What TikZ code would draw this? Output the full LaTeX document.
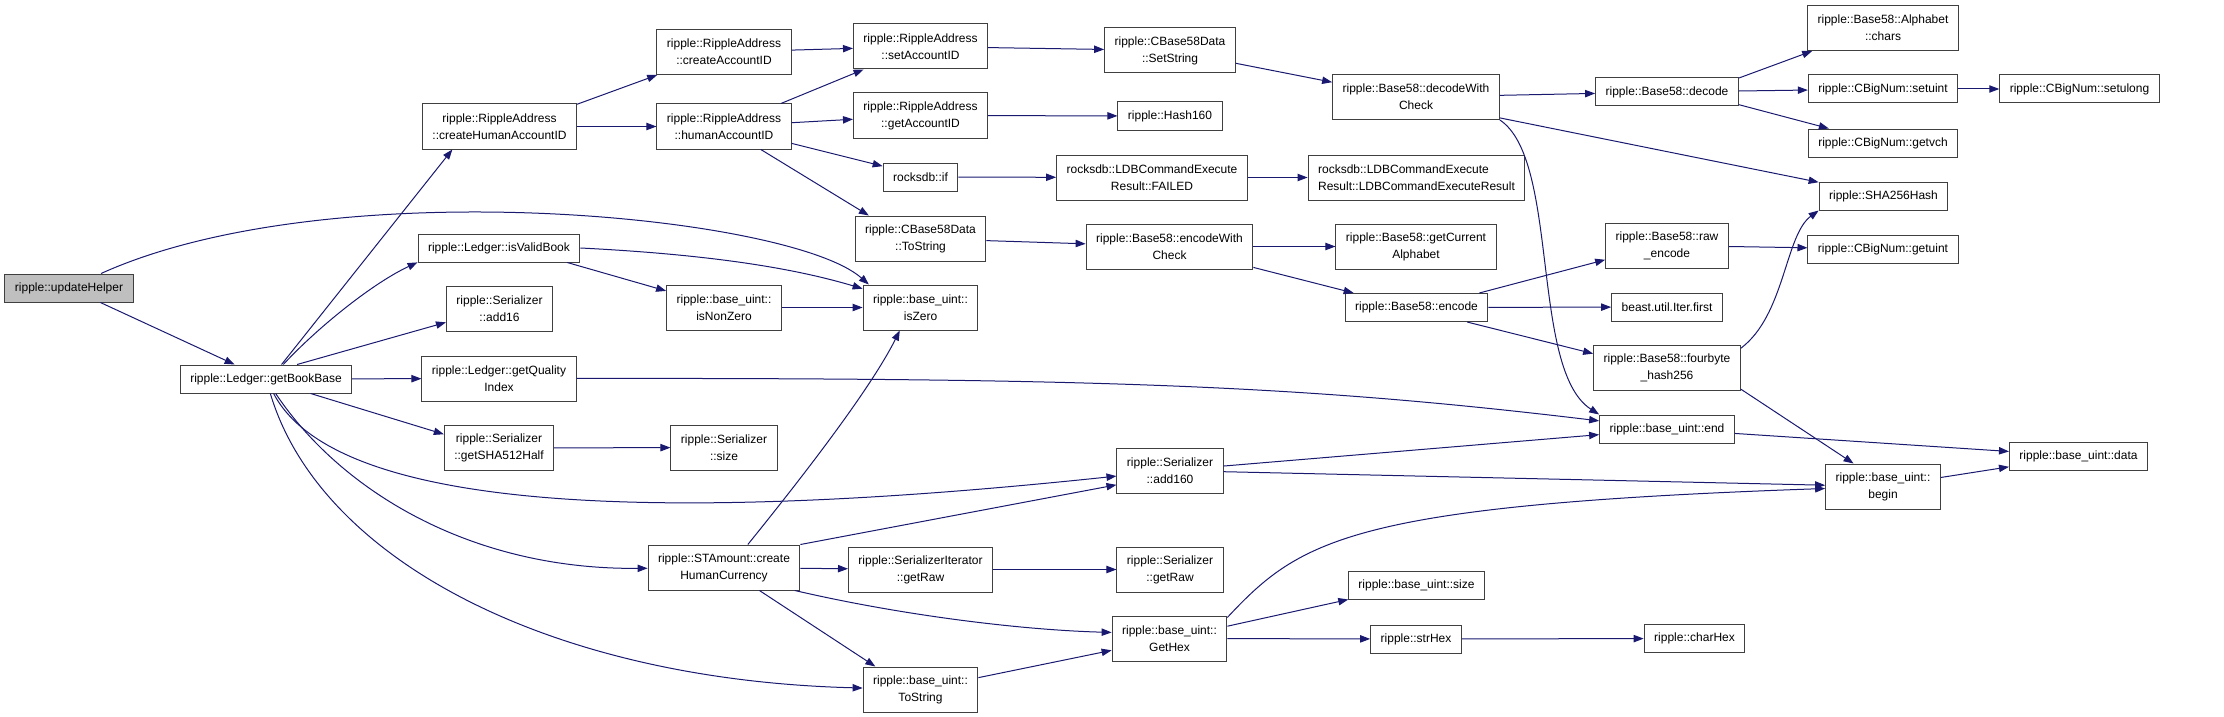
\documentclass[tikz,border=0pt]{standalone}
\usepackage{fontspec}
\setmainfont{Liberation Sans}
\usetikzlibrary{arrows.meta}
\definecolor{edgeblue}{HTML}{191970}
\definecolor{boxline}{HTML}{404040}
\definecolor{rootgray}{HTML}{BFBFBF}
\tikzset{
  funcbox/.style={
    draw=boxline,
    fill=white,
    line width=0.75pt,
    align=center,
    inner xsep=7.5pt,
    inner ysep=2pt,
    minimum height=21pt,
    font=\fontsize{9}{12.75}\selectfont
  },
  funcboxtwo/.style={
    funcbox,
    minimum height=33.75pt
  },
  rootfunc/.style={
    funcbox,
    fill=rootgray
  },
  callarrow/.style={
    -{Triangle[length=7.5pt,width=5.5pt]},
    line width=0.75pt,
    draw=edgeblue
  }
}

\begin{document}
\begin{tikzpicture}[x=0.75pt, y=-0.75pt]
    \useasboundingbox (0,0) rectangle (2224,717);

    % column 0 and 1
    \node[rootfunc] (uh) at (69,288) {ripple::updateHelper};
    \node[funcbox] (gbb) at (266,379) {ripple::Ledger::getBookBase};

    % column 2
    \node[funcboxtwo] (chaid) at (499.5,126.5) {ripple::RippleAddress\\::createHumanAccountID};
    \node[funcbox] (ivb) at (499,248) {ripple::Ledger::isValidBook};
    \node[funcboxtwo] (add16) at (499.5,309) {ripple::Serializer\\::add16};
    \node[funcboxtwo] (gqi) at (499,378.5) {ripple::Ledger::getQuality\\Index};
    \node[funcboxtwo] (sha512) at (499,448) {ripple::Serializer\\::getSHA512Half};

    % column 3
    \node[funcboxtwo] (caid) at (724,52) {ripple::RippleAddress\\::createAccountID};
    \node[funcboxtwo] (haid) at (724,126.5) {ripple::RippleAddress\\::humanAccountID};
    \node[funcboxtwo] (nonzero) at (724,307.5) {ripple::base\_uint::\\isNonZero};
    \node[funcboxtwo] (sersize) at (724,447.5) {ripple::Serializer\\::size};
    \node[funcboxtwo] (chc) at (724,567.5) {ripple::STAmount::create\\HumanCurrency};

    % column 4
    \node[funcboxtwo] (said) at (920.5,46.5) {ripple::RippleAddress\\::setAccountID};
    \node[funcboxtwo] (gaid) at (920.5,115.5) {ripple::RippleAddress\\::getAccountID};
    \node[funcbox] (rif) at (920.5,177) {rocksdb::if};
    \node[funcboxtwo] (b58ts) at (920.5,238.5) {ripple::CBase58Data\\::ToString};
    \node[funcboxtwo] (iszero) at (920.5,307.5) {ripple::base\_uint::\\isZero};
    \node[funcboxtwo] (sigr) at (920.5,569.5) {ripple::SerializerIterator\\::getRaw};
    \node[funcboxtwo] (tostr) at (920.5,689.5) {ripple::base\_uint::\\ToString};

    % column 5
    \node[funcboxtwo] (setstr) at (1170,50.5) {ripple::CBase58Data\\::SetString};
    \node[funcbox] (h160) at (1170,116) {ripple::Hash160};
    \node[funcboxtwo] (failed) at (1152,177.5) {rocksdb::LDBCommandExecute\\Result::FAILED};
    \node[funcboxtwo] (ewc) at (1169.5,246.5) {ripple::Base58::encodeWith\\Check};
    \node[funcboxtwo] (add160) at (1170,470.5) {ripple::Serializer\\::add160};
    \node[funcboxtwo] (sgr) at (1170,569.5) {ripple::Serializer\\::getRaw};
    \node[funcboxtwo] (gethex) at (1169.5,638.5) {ripple::base\_uint::\\GetHex};

    % column 6
    \node[funcboxtwo] (dwc) at (1416,97) {ripple::Base58::decodeWith\\Check};
    \node[funcboxtwo, align=left] (ldbres) at (1416.5,177.5) {rocksdb::LDBCommandExecute\\Result::LDBCommandExecuteResult};
    \node[funcboxtwo] (gca) at (1416,246.5) {ripple::Base58::getCurrent\\Alphabet};
    \node[funcbox] (enc) at (1416.5,307.5) {ripple::Base58::encode};
    \node[funcbox] (bsize) at (1416.5,585) {ripple::base\_uint::size};
    \node[funcbox] (strhex) at (1416,639) {ripple::strHex};

    % column 7
    \node[funcbox] (dec) at (1667,92) {ripple::Base58::decode};
    \node[funcboxtwo] (rawenc) at (1667,245.5) {ripple::Base58::raw\\\_encode};
    \node[funcbox] (iterfirst) at (1667,307) {beast.util.Iter.first};
    \node[funcboxtwo] (fourbyte) at (1667,368) {ripple::Base58::fourbyte\\\_hash256};
    \node[funcbox] (bend) at (1667,429) {ripple::base\_uint::end};
    \node[funcbox] (charhex) at (1694.5,638.5) {ripple::charHex};

    % column 8 and 9
    \node[funcboxtwo] (chars) at (1883,28) {ripple::Base58::Alphabet\\::chars};
    \node[funcbox] (setuint) at (1883,89) {ripple::CBigNum::setuint};
    \node[funcbox] (getvch) at (1883,143) {ripple::CBigNum::getvch};
    \node[funcbox] (sha256) at (1883.5,196) {ripple::SHA256Hash};
    \node[funcbox] (getuint) at (1883,249) {ripple::CBigNum::getuint};
    \node[funcboxtwo] (bbegin) at (1883,486.5) {ripple::base\_uint::\\begin};
    \node[funcbox] (setulong) at (2079.5,89) {ripple::CBigNum::setulong};
    \node[funcbox] (bdata) at (2078.5,456) {ripple::base\_uint::data};

    % calls out of updateHelper and getBookBase
    \draw[callarrow] (uh) -- (gbb);
    \draw[callarrow] (uh) .. controls (330,170) and (790,215) .. (iszero.156);
    \draw[callarrow] (gbb.43) -- (chaid.206);
    \draw[callarrow] (gbb.40) .. controls (320,325) and (375,282) .. (ivb.190);
    \draw[callarrow] (gbb.25) -- (add16.194);
    \draw[callarrow] (gbb) -- (gqi);
    \draw[callarrow] (gbb.-18) -- (sha512.166);
    \draw[callarrow] (gbb) .. controls (340,520) and (700,520) .. (add160);
    \draw[callarrow] (gbb) .. controls (340,490) and (470,570) .. (chc);
    \draw[callarrow] (gbb) .. controls (320,560) and (550,680) .. (tostr);

    % RippleAddress calls
    \draw[callarrow] (chaid.16) -- (caid.199);
    \draw[callarrow] (chaid) -- (haid);
    \draw[callarrow] (caid) -- (said);
    \draw[callarrow] (haid.22) -- (said.202);
    \draw[callarrow] (haid) -- (gaid);
    \draw[callarrow] (haid.-14) -- (rif.164);
    \draw[callarrow] (haid.-32) -- (b58ts.156);
    \draw[callarrow] (said) -- (setstr);
    \draw[callarrow] (gaid) -- (h160);
    \draw[callarrow] (rif) -- (failed);
    \draw[callarrow] (failed) -- (ldbres);
    \draw[callarrow] (b58ts) -- (ewc);

    % Base58 calls
    \draw[callarrow] (setstr.-11) -- (dwc.170);
    \draw[callarrow] (dwc) -- (dec);
    \draw[callarrow] (dwc.-14) -- (sha256.168);
    \draw[callarrow] (dwc.south east) .. controls (1560,160) and (1530,370) .. (bend.north west);
    \draw[callarrow] (dec.11) -- (chars.198);
    \draw[callarrow] (dec) -- (setuint);
    \draw[callarrow] (dec.-10) -- (getvch.165);
    \draw[callarrow] (setuint) -- (setulong);
    \draw[callarrow] (ewc) -- (gca);
    \draw[callarrow] (ewc.-14) -- (enc.167);
    \draw[callarrow] (enc.13) -- (rawenc.193);
    \draw[callarrow] (enc) -- (iterfirst);
    \draw[callarrow] (enc.-16) -- (fourbyte.169);
    \draw[callarrow] (rawenc) -- (getuint);
    \draw[callarrow] (fourbyte.15) .. controls (1785,315) and (1785,235) .. (sha256.south west);
    \draw[callarrow] (fourbyte.-16) -- (bbegin.142);
    \draw[callarrow] (bend) -- (bdata);
    \draw[callarrow] (bbegin) -- (bdata);

    % base_uint and Serializer calls
    \draw[callarrow] (ivb.east) .. controls (720,255) and (800,270) .. (iszero.162);
    \draw[callarrow] (ivb.-12) -- (nonzero.164);
    \draw[callarrow] (nonzero) -- (iszero);
    \draw[callarrow] (gqi) .. controls (1100,378) and (1300,385) .. (bend);
    \draw[callarrow] (sha512) -- (sersize);
    \draw[callarrow] (chc.44) .. controls (800,480) and (870,390) .. (iszero.228);
    \draw[callarrow] (chc.north east) -- (add160.195);
    \draw[callarrow] (chc) -- (sigr);
    \draw[callarrow] (chc.-33) -- (tostr.153);
    \draw[callarrow] (chc.-18) .. controls (900,615) and (1020,630) .. (gethex.174);
    \draw[callarrow] (sigr) -- (sgr);
    \draw[callarrow] (tostr) -- (gethex);
    \draw[callarrow] (add160) -- (bend);
    \draw[callarrow] (add160) -- (bbegin);
    \draw[callarrow] (gethex.20) .. controls (1300,540) and (1350,505) .. (bbegin);
    \draw[callarrow] (gethex.12) -- (bsize.192);
    \draw[callarrow] (gethex) -- (strhex);
    \draw[callarrow] (strhex) -- (charhex);
\end{tikzpicture}
\end{document}
